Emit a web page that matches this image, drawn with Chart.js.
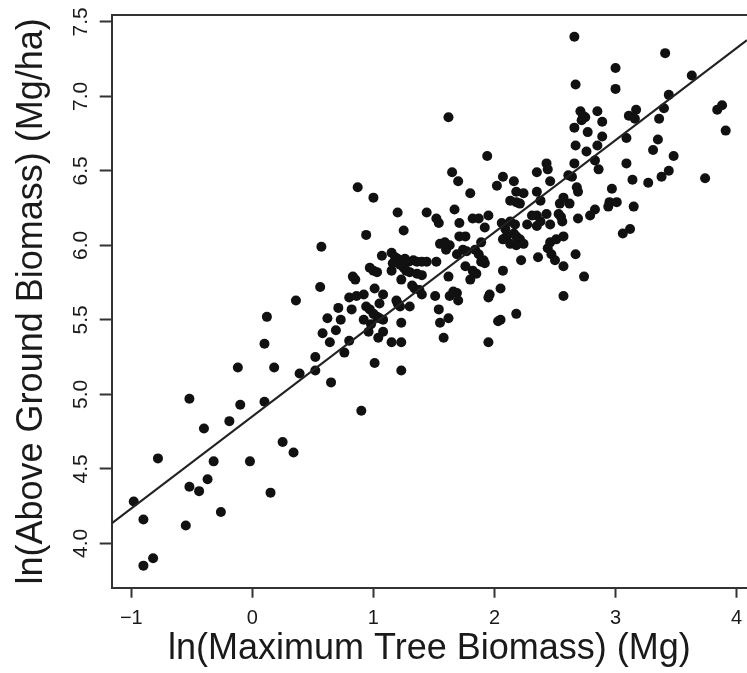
<!DOCTYPE html>
<html>
<head>
<meta charset="utf-8">
<script src="https://cdn.jsdelivr.net/npm/chart.js@4/dist/chart.umd.min.js"></script>
<style>
  html, body { margin: 0; padding: 0; background: #fff; overflow: hidden; }
  #wrap { width: 747px; height: 673px; }
</style>
</head>
<body>
<div id="wrap"><canvas id="c" width="747" height="673"></canvas></div>
<script>
// ---- data ----
const xTickValues = [-1, 0, 1, 2, 3, 4];
const yTickValues = [4.0, 4.5, 5.0, 5.5, 6.0, 6.5, 7.0, 7.5];
const xTitle = "ln(Maximum Tree Biomass) (Mg)";
const yTitle = "ln(Above Ground Biomass) (Mg/ha)";
const xRange = [-1.162, 4.086];
const yRange = [3.702, 7.546];
const fitIntercept = 4.852;
const fitSlope = 0.618;

const maxTreeBiomass = [
  0.65,-0.52,-0.10,0.10,-0.19,-0.40,-0.78,-0.32,-0.02,0.25,
  0.34,-0.37,-0.52,-0.44,-0.98,-0.90,-0.26,0.15,-0.55,-0.82,
  -0.90,0.90,-0.12,0.12,0.10,0.18,0.36,0.39,0.57,0.56,
  0.52,0.52,0.62,0.58,0.64,0.71,0.73,0.69,0.80,0.85,
  0.80,0.76,0.87,1.00,0.82,0.86,1.44,1.67,1.54,1.71,
  1.82,1.87,1.95,1.92,2.06,2.13,2.18,2.21,2.35,2.43,
  2.27,2.35,2.46,2.54,2.62,2.55,2.56,2.69,2.79,2.83,
  0.94,1.25,1.55,1.59,1.60,1.63,1.71,1.76,1.74,1.77,
  1.69,1.84,1.89,1.87,1.91,1.92,2.10,2.16,2.18,2.21,
  2.13,2.18,2.24,2.09,2.17,2.46,2.51,2.57,2.44,2.47,
  2.50,2.57,2.36,2.22,2.67,2.74,2.57,2.07,2.05,1.96,
  1.95,2.18,2.03,2.05,1.95,1.76,1.82,1.85,1.80,1.89,
  1.62,1.52,1.51,1.63,1.69,1.70,1.66,1.54,1.62,1.55,
  1.58,1.15,1.18,1.20,1.26,1.29,1.33,1.36,1.40,1.44,
  1.07,1.16,1.22,1.25,0.97,1.00,1.03,1.15,1.27,1.30,
  1.36,1.40,0.83,1.23,1.32,1.34,1.38,1.40,1.01,0.92,
  1.08,0.94,0.97,1.00,1.03,1.05,1.08,1.19,1.20,1.22,
  1.05,1.30,0.92,1.23,0.98,0.96,1.08,1.04,1.15,1.23,
  1.01,1.23,1.52,2.66,3.41,3.00,2.67,3.00,3.63,3.44,
  2.71,2.73,2.72,2.75,2.85,2.89,2.66,2.77,3.11,3.17,
  3.16,3.40,3.36,3.84,3.88,3.91,2.89,2.85,2.67,2.76,
  3.09,3.35,3.31,3.48,2.83,2.86,2.66,3.09,3.14,3.27,
  3.38,3.44,3.74,2.35,2.43,2.44,2.46,2.61,2.64,2.68,
  2.69,2.07,2.16,2.18,2.24,2.35,2.38,2.13,2.97,2.95,
  3.01,2.94,3.15,2.57,2.53,3.12,3.06,2.31,2.38,2.07,
  1.62,1.94,1.65,1.70,1.80,2.02,1.20
];
const aboveGroundBiomass = [
  5.08,4.97,4.93,4.95,4.82,4.77,4.57,4.55,4.55,4.68,
  4.61,4.43,4.38,4.35,4.28,4.16,4.21,4.34,4.12,3.90,
  3.85,4.89,5.18,5.52,5.34,5.18,5.63,5.14,5.99,5.72,
  5.25,5.16,5.51,5.41,5.35,5.58,5.50,5.43,5.65,5.77,
  5.36,5.28,6.39,6.32,5.57,5.66,6.22,6.24,6.15,6.15,
  6.18,6.18,6.20,6.12,6.15,6.16,6.29,6.28,6.20,6.21,
  6.14,6.13,6.14,6.28,6.28,6.19,6.16,6.18,6.20,6.24,
  6.07,6.10,6.01,6.02,5.97,6.00,6.06,6.06,5.97,5.96,
  5.94,5.97,6.02,5.94,5.90,5.88,6.06,6.08,6.06,6.04,
  6.01,6.00,6.01,6.11,6.14,6.02,6.04,6.06,5.98,5.94,
  5.90,5.86,5.92,5.90,5.94,5.79,5.66,5.83,5.71,5.67,
  5.65,5.54,5.49,5.50,5.35,5.86,5.83,5.81,5.77,5.89,
  5.79,5.89,5.66,5.66,5.68,5.63,5.69,5.57,5.51,5.48,
  5.38,5.95,5.92,5.91,5.91,5.89,5.90,5.89,5.89,5.89,
  5.93,5.88,5.87,5.85,5.85,5.83,5.82,5.83,5.83,5.82,
  5.81,5.80,5.79,5.77,5.73,5.71,5.70,5.67,5.71,5.67,
  5.67,5.59,5.57,5.54,5.52,5.51,5.50,5.63,5.61,5.59,
  5.61,5.59,5.50,5.48,5.47,5.42,5.42,5.38,5.35,5.35,
  5.21,5.16,6.18,7.40,7.29,7.19,7.08,7.05,7.14,7.01,
  6.90,6.87,6.84,6.86,6.90,6.83,6.79,6.76,6.87,6.91,
  6.85,6.92,6.85,6.91,6.94,6.77,6.73,6.67,6.67,6.63,
  6.72,6.71,6.64,6.60,6.57,6.51,6.55,6.55,6.44,6.42,
  6.46,6.50,6.45,6.49,6.55,6.51,6.43,6.47,6.46,6.39,
  6.36,6.46,6.43,6.36,6.35,6.36,6.30,6.30,6.38,6.29,
  6.29,6.26,6.26,6.32,6.21,6.11,6.08,6.20,6.16,6.04,
  6.86,6.60,6.49,6.43,6.35,6.40,6.22
];

// ---- build chart ----
const FONT = "'Liberation Sans', Arial, Helvetica, sans-serif";
const INK = '#1a1a1a';
const AXIS = '#333333';

const points = maxTreeBiomass.map((x, i) => ({ x: x, y: aboveGroundBiomass[i] }));
const fitLine = xRange.map(x => ({ x: x, y: fitIntercept + fitSlope * x }));

function fmtX(v) { return v < 0 ? '\u2212' + Math.abs(v) : String(v); }

const rotatedYTicks = {
  id: 'rotatedYTicks',
  afterDraw(chart) {
    const s = chart.scales.y;
    const ctx = chart.ctx;
    ctx.save();
    ctx.fillStyle = INK;
    ctx.font = "21px " + FONT;
    ctx.textAlign = 'center';
    ctx.textBaseline = 'alphabetic';
    yTickValues.forEach(v => {
      const py = s.getPixelForValue(v);
      ctx.save();
      ctx.translate(87, py);
      ctx.rotate(-Math.PI / 2);
      ctx.fillText(v.toFixed(1), 0, 0);
      ctx.restore();
    });
    ctx.restore();
  }
};

function zeroPad(s) { s.paddingLeft = 0; s.paddingRight = 0; s.paddingTop = 0; s.paddingBottom = 0; }

new Chart(document.getElementById('c'), {
  data: {
    datasets: [
      {
        type: 'line',
        data: fitLine,
        borderColor: '#222222',
        borderWidth: 2,
        pointRadius: 0,
        fill: false,
        tension: 0
      },
      {
        type: 'scatter',
        data: points,
        pointRadius: 5,
        pointBackgroundColor: '#111111',
        pointBorderWidth: 0,
        pointBorderColor: '#111111'
      }
    ]
  },
  options: {
    responsive: false,
    animation: false,
    events: [],
    layout: { padding: 0, autoPadding: false },
    plugins: { legend: { display: false }, tooltip: { enabled: false }, title: { display: false } },
    scales: {
      x: {
        type: 'linear',
        position: 'bottom',
        min: xRange[0],
        max: xRange[1],
        afterBuildTicks: s => { s.ticks = xTickValues.map(v => ({ value: v })); },
        afterFit: s => { s.height = 85.3; zeroPad(s); },
        ticks: {
          font: { family: FONT, size: 20 },
          color: INK,
          padding: 9,
          maxRotation: 0,
          callback: v => fmtX(v)
        },
        grid: { drawOnChartArea: false, drawTicks: true, tickLength: 10, tickColor: AXIS, tickWidth: 2 },
        border: { display: true, color: AXIS, width: 2 },
        title: {
          display: true,
          text: xTitle,
          color: INK,
          font: { family: FONT, size: 36 },
          padding: { top: 0, bottom: 2 }
        }
      },
      x2: {
        type: 'linear',
        position: 'top',
        min: xRange[0],
        max: xRange[1],
        afterFit: s => { s.height = 15; zeroPad(s); },
        ticks: { display: false },
        grid: { drawOnChartArea: false, drawTicks: false },
        border: { display: true, color: AXIS, width: 2 }
      },
      y: {
        type: 'linear',
        position: 'left',
        min: yRange[0],
        max: yRange[1],
        afterBuildTicks: s => { s.ticks = yTickValues.map(v => ({ value: v })); },
        afterFit: s => { s.width = 111.7; zeroPad(s); },
        ticks: { display: false },
        grid: { drawOnChartArea: false, drawTicks: true, tickLength: 12, tickColor: AXIS, tickWidth: 2 },
        border: { display: true, color: AXIS, width: 2 },
        title: {
          display: true,
          text: yTitle,
          color: INK,
          font: { family: FONT, size: 36 },
          padding: { top: 10, bottom: 0 }
        }
      }
    }
  },
  plugins: [rotatedYTicks]
});
</script>
</body>
</html>
